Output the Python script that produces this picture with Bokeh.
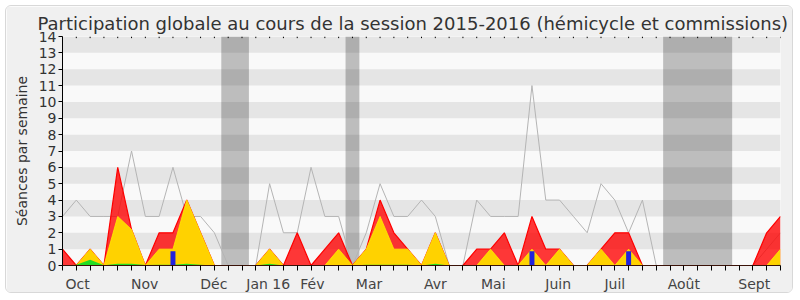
from bokeh.plotting import figure
from bokeh.models import Range1d, FixedTicker
from bokeh.embed import file_html
from bokeh.resources import INLINE

# ---- data (weekly values, week 0 = end of September 2015) ----
weeks = list(range(53))
total_hemicycle = [3, 4, 3, 3, 3, 7, 3, 3, 6, 3, 3, 2, 0, 0, 0, 5, 2, 2, 6, 3,
                   3, 0, 2, 5, 3, 3, 4, 3, 0, 0, 4, 3, 3, 3, 11, 4, 4, 3, 2, 5,
                   4, 2, 4, 0, 0, 0, 0, 0, 0, 0, 0, 1, 2]
presence_total = [1, 0, 1, 0, 6, 2.2, 0, 2, 2, 4, 2, 0, 0, 0, 0, 1, 0, 2, 0, 1,
                  2, 0, 1, 4, 2, 1, 0, 2, 0, 0, 1, 1, 2, 0, 3, 1, 1, 0, 0, 1,
                  2, 2, 0, 0, 0, 0, 0, 0, 0, 0, 0, 2, 3]
presence_comm = [0, 0, 1, 0, 3, 2.2, 0, 1, 1, 4, 2, 0, 0, 0, 0, 1, 0, 0, 0, 0,
                 1, 0, 1, 3, 1, 1, 0, 2, 0, 0, 0, 1, 0, 0, 1, 0, 1, 0, 0, 1,
                 0, 1, 0, 0, 0, 0, 0, 0, 0, 0, 0, 0, 1]
presence_other = [0, 0.05, 0.35, 0.02, 0.1, 0.1, 0.03, 0.05, 0.05, 0.1, 0.05, 0, 0, 0, 0, 0.1, 0, 0, 0, 0,
                  0.02, 0, 0.05, 0.05, 0.05, 0.05, 0, 0.1, 0, 0, 0.02, 0.03, 0.02, 0, 0.02, 0.02, 0.03, 0, 0, 0.03,
                  0.02, 0.03, 0, 0, 0, 0, 0, 0, 0, 0, 0, 0, 0.05]
question_weeks = [8, 34, 41]
question_values = [0.87, 0.87, 0.87]
vacances_start = [11.5, 20.5, 43.5]
vacances_end = [13.5, 21.5, 48.5]
month_labels = ["Oct", "Nov", "Déc", "Jan 16", "Fév", "Mar", "Avr", "Mai",
                "Juin", "Juil", "Août", "Sept"]
month_ticks = [1.1, 5.95, 10.96, 14.9, 18.1, 22.2, 27.0, 31.2, 35.9, 40.0, 45.0, 50.1]
y_ticks = list(range(0, 15))

FONT = "DejaVu Sans"

p = figure(width=788, height=288, output_backend="svg", toolbar_location=None,
           x_range=Range1d(0, 52), y_range=Range1d(0, 14),
           min_border_left=56, min_border_right=14, min_border_top=30,
           min_border_bottom=28)
p.margin = (5, 5, 5, 5)
p.styles = {"border": "1px solid #d8d8d8", "border-radius": "6px", "overflow": "hidden"}
p.background_fill_color = "#f9f9f9"
p.border_fill_color = "#f0f0f0"
p.outline_line_color = None
p.grid.visible = False

p.title.text = "Participation globale au cours de la session 2015-2016 (hémicycle et commissions)"
p.title.align = "left"
p.title.offset = -25
p.title.text_font = FONT
p.title.text_font_size = "18px"
p.title.text_font_style = "normal"
p.title.text_color = "#333333"
p.title.standoff = 6

# stripes
p.quad(left=0, right=52, bottom=y_ticks[1:-1:2], top=y_ticks[2::2],
       fill_color="#e5e5e5", line_color=None)
# vacation bands
p.quad(left=vacances_start, right=vacances_end, bottom=0, top=14,
       fill_color="#000000", fill_alpha=0.24, line_color=None)

# total séances line
p.line(weeks, total_hemicycle, line_color="#b4b4b4", line_width=1)

# areas
p.varea(x=weeks, y1=0, y2=presence_total, fill_color="#ff0000", fill_alpha=0.78)
p.line(weeks, presence_total, line_color="#ff0000", line_width=1.2)
p.varea(x=weeks, y1=0, y2=presence_comm, fill_color="#ffd200")
p.line(weeks, presence_comm, line_color="#ffee00", line_width=1, line_alpha=0.8)
p.varea(x=weeks, y1=0, y2=presence_other, fill_color="#22dd22")
p.vbar(x=question_weeks, top=question_values, width=0.36, fill_color="#2222dd",
       line_color=None)

# tiny top ticks
p.segment(x0=weeks, y0=14, x1=weeks, y1=13.9, line_color="#000000", line_width=1)

# axes
p.yaxis.ticker = FixedTicker(ticks=y_ticks)
p.yaxis.axis_label = "Séances par semaine"
p.yaxis.axis_label_text_font = FONT
p.yaxis.axis_label_text_font_size = "14px"
p.yaxis.axis_label_text_font_style = "normal"
p.yaxis.axis_label_text_color = "#333333"
p.yaxis.axis_label_standoff = 6
p.yaxis.major_label_text_font = FONT
p.yaxis.major_label_text_font_size = "14px"
p.yaxis.major_label_text_color = "#333333"
p.yaxis.major_tick_out = 4
p.yaxis.major_tick_in = 0
p.yaxis.minor_tick_line_color = None
p.yaxis.axis_line_color = "#000000"
p.yaxis.major_label_standoff = 2

p.xaxis.ticker = FixedTicker(ticks=month_ticks, minor_ticks=weeks)
p.xaxis.major_label_overrides = {t: l for t, l in zip(month_ticks, month_labels)}
p.xaxis.major_tick_out = 0
p.xaxis.major_tick_in = 0
p.xaxis.minor_tick_out = 5
p.xaxis.minor_tick_in = 0
p.xaxis.minor_tick_line_color = "#000000"
p.xaxis.major_label_text_font = FONT
p.xaxis.major_label_text_font_size = "14px"
p.xaxis.major_label_text_color = "#444444"
p.xaxis.major_label_standoff = 5
p.xaxis.axis_line_color = "#3a1208"

open("out.html", "w").write(file_html(p, INLINE))
